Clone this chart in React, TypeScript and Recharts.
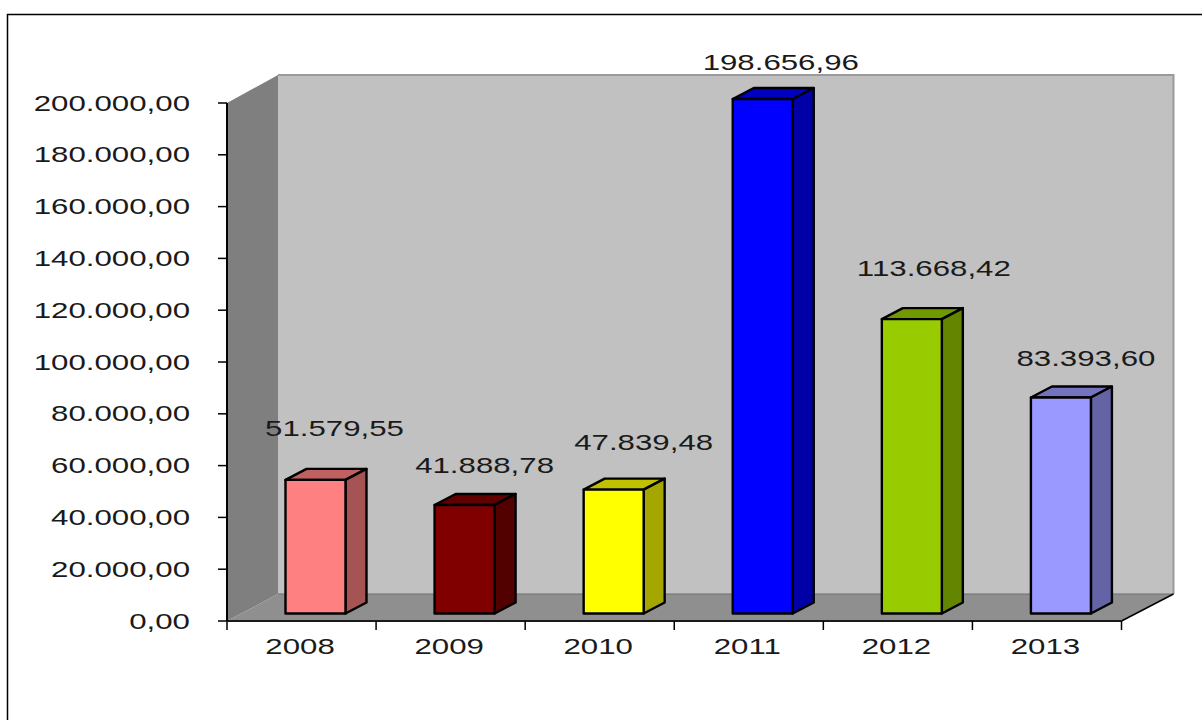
import React from "react";
import { BarChart, Bar, XAxis, YAxis, LabelList, Customized } from "recharts";

// --- chart values ---
const categories = ["2008", "2009", "2010", "2011", "2012", "2013"];
const amounts = [51579.55, 41888.78, 47839.48, 198656.96, 113668.42, 83393.6];
const yTicks = [0, 20000, 40000, 60000, 80000, 100000, 120000, 140000, 160000, 180000, 200000];

// --- styles ---
const frontColors = ["#FF8080", "#800000", "#FFFF00", "#0000FF", "#99CC00", "#9999FF"];
const topColors = ["#C06060", "#600000", "#C0C000", "#0000C0", "#739900", "#7373C0"];
const sideColors = ["#A65353", "#530000", "#A6A600", "#0000A6", "#638500", "#6363A6"];
const labelShiftX = [19, 20, 30, 18, 22, 25];
const labelLift = [43.5, 32, 39.5, 28.5, 43, 31.5];

const W = 1202;
const H = 720;
const axisW = 227;
const axisH = 99;
const margin = { top: 103, right: 80.5, bottom: 0, left: 0 };
const plotW = W - axisW - margin.right;
const left = axisW;
const right = W - margin.right;
const top = margin.top;
const bottom = H - axisH;
const wallDX = 51;
const wallDY = 27;
const barDX = 21;
const barDY = 11;
const barShiftX = 13.5;
const barShiftY = 7.5;
const STRETCH = 1.42;
const FONT = "'Liberation Sans', Arial, sans-serif";
const FS = 22;

const data = categories.map((year, i) => ({ year, value: amounts[i] }));

function brl(v: number): string {
  const [int, dec] = v.toFixed(2).split(".");
  return int.replace(/\B(?=(\d{3})+(?!\d))/g, ".") + "," + dec;
}

function WideText({ x, y, anchor, children }: any) {
  return (
    <text
      transform={`translate(${x},${y}) scale(${STRETCH},1)`}
      textAnchor={anchor}
      fontFamily={FONT}
      fontSize={FS}
      fill="#1a1a1a"
    >
      {children}
    </text>
  );
}

function Walls() {
  const bx = left + wallDX;
  const by = bottom - wallDY;
  const tx = top - wallDY - 1;
  const rx = right + wallDX + 1;
  return (
    <g>
      <path d={`M7.5 720V14.5H${W}`} fill="none" stroke="#000" strokeWidth={1.5} />
      <rect x={bx} y={tx} width={rx - bx} height={by - tx} fill="#C1C1C1" />
      <path d={`M${bx} ${tx}H${rx}V${by}`} fill="none" stroke="#9A9A9A" strokeWidth={2} />
      <polygon points={`${left},${top} ${bx},${tx} ${bx},${by} ${left},${bottom}`} fill="#7F7F7F" />
      <polygon points={`${left},${bottom} ${bx},${by} ${rx},${by} ${right},${bottom}`} fill="#8F8F8F" />
      <path d={`M${bx} ${by}H${rx}`} fill="none" stroke="#6E6E6E" strokeWidth={1} />
      <path d={`M${right} ${bottom}L${rx} ${by}`} fill="none" stroke="#000" strokeWidth={1.5} />
    </g>
  );
}

function Box3D(props: any) {
  const { x, y, width, height, index } = props;
  const l = x + barShiftX;
  const r = l + width;
  const t = y - barShiftY;
  const b = y + height - barShiftY;
  const stroke = { stroke: "#000", strokeWidth: 2.4, strokeLinejoin: "round" as const };
  return (
    <g>
      <polygon
        points={`${l},${t} ${l + barDX},${t - barDY} ${r + barDX},${t - barDY} ${r},${t}`}
        fill={topColors[index]}
        {...stroke}
      />
      <polygon
        points={`${r},${t} ${r + barDX},${t - barDY} ${r + barDX},${b - barDY} ${r},${b}`}
        fill={sideColors[index]}
        {...stroke}
      />
      <rect x={l} y={t} width={width} height={b - t} fill={frontColors[index]} {...stroke} />
    </g>
  );
}

function ValueLabel(props: any) {
  const { x, y, width, value, index } = props;
  const cx = x + barShiftX + width / 2 + labelShiftX[index];
  const base = y - barShiftY - labelLift[index];
  return (
    <WideText x={cx} y={base} anchor="middle">
      {brl(Number(value))}
    </WideText>
  );
}

function YTick(props: any) {
  const { x, y, payload } = props;
  return (
    <WideText x={x} y={y + 7.5} anchor="end">
      {brl(payload.value)}
    </WideText>
  );
}

function XTick(props: any) {
  const { x, payload, index } = props;
  const band = plotW / categories.length;
  const tl = x - band / 2;
  return (
    <g>
      <line x1={tl} x2={tl} y1={bottom} y2={bottom + 9} stroke="#000" strokeWidth={1.5} />
      {index === categories.length - 1 && (
        <line x1={tl + band} x2={tl + band} y1={bottom} y2={bottom + 9} stroke="#000" strokeWidth={1.5} />
      )}
      <WideText x={x - 1.5} y={bottom + 33} anchor="middle">
        {payload.value}
      </WideText>
    </g>
  );
}

export default function App() {
  return (
    <div style={{ position: "fixed", left: 0, top: 0, width: W, height: H, background: "#fff" }}>
      <BarChart width={W} height={H} data={data} margin={margin} barSize={60}>
        <Customized component={<Walls />} />
        <XAxis
          dataKey="year"
          tick={<XTick />}
          tickLine={false}
          axisLine={{ stroke: "#1a1a1a", strokeWidth: 2 }}
          interval={0}
          height={axisH}
        />
        <YAxis
          domain={[0, 200000]}
          ticks={yTicks}
          tick={<YTick />}
          tickSize={9}
          tickMargin={28}
          tickLine={{ stroke: "#000", strokeWidth: 1.5 }}
          axisLine={{ stroke: "#000", strokeWidth: 2 }}
          width={axisW}
          interval={0}
        />
        <Bar dataKey="value" shape={<Box3D />} isAnimationActive={false}>
          <LabelList dataKey="value" content={<ValueLabel />} />
        </Bar>
      </BarChart>
    </div>
  );
}
